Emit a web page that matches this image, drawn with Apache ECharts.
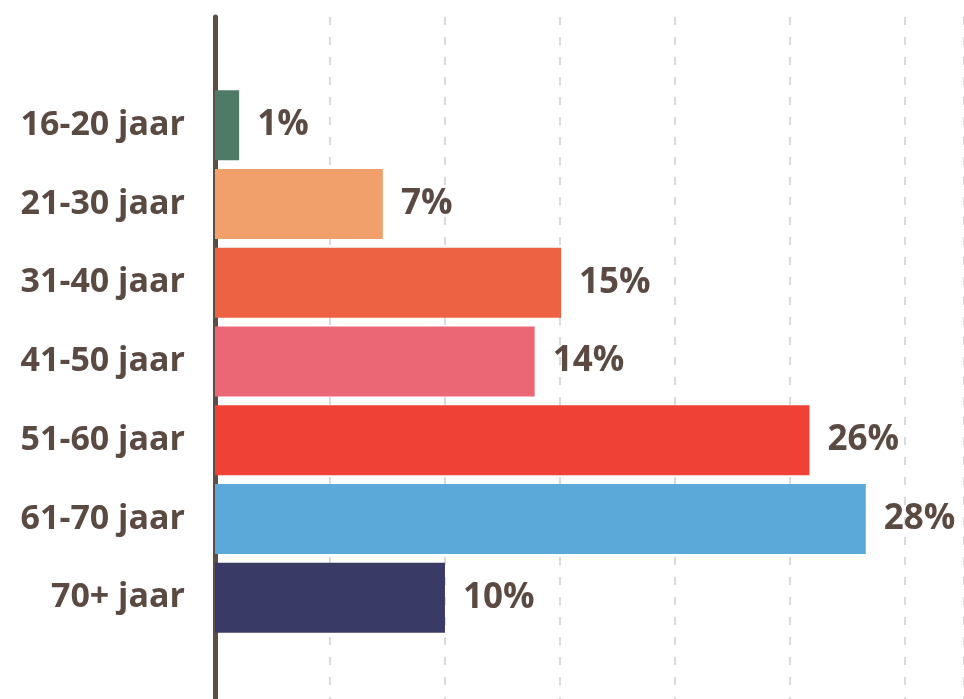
<!DOCTYPE html>
<html>
<head>
<meta charset="utf-8">
<script src="https://cdn.jsdelivr.net/npm/echarts@6/dist/echarts.min.js"></script>
<style>
    html, body { margin: 0; padding: 0; background: #fff; }
    #chart { width: 964px; height: 699px; }
</style>
</head>
<body>
<div id="chart"></div>
<script>
var categories = ["16-20 jaar", "21-30 jaar", "31-40 jaar", "41-50 jaar", "51-60 jaar", "61-70 jaar", "70+ jaar"];
var values = [1.05, 7.3, 15.05, 13.9, 25.85, 28.3, 10];
var barColors = ["#4e7a66", "#f2a06b", "#ec6243", "#eb6776", "#ef4136", "#5aa9d9", "#3a3a66"];

var textColor = "#5b4a42";
var xMax = 32.57;

var option = {
    animation: false,
    grid: [
        // full height grid: axis line + dashed gridlines
        { left: 215, right: 0, top: 17, bottom: 0 },
        // bars
        { left: 215, right: 0, top: 86, bottom: 62 },
    ],
    xAxis: [
        {
            gridIndex: 0,
            type: "value",
            min: 0,
            max: xMax,
            interval: 5,
            axisLine: { show: false },
            axisTick: { show: false },
            axisLabel: { show: false },
            splitLine: {
                show: true,
                lineStyle: { color: "#cfcfcf", width: 1.5, type: [8, 12] },
            },
        },
        {
            gridIndex: 1,
            type: "value",
            min: 0,
            max: xMax,
            show: false,
        },
    ],
    yAxis: [
        {
            gridIndex: 0,
            type: "value",
            axisLine: { show: true, lineStyle: { color: "#5e4d44", width: 5 } },
            axisTick: { show: false },
            axisLabel: { show: false },
            splitLine: { show: false },
        },
        {
            gridIndex: 1,
            type: "category",
            inverse: true,
            data: categories,
            axisLine: { show: false },
            axisTick: { show: false },
            axisLabel: {
                margin: 30,
                color: textColor,
                fontFamily: "Open Sans",
                fontWeight: "bold",
                fontSize: 34,
            },
        },
    ],
    series: [
        {
            type: "bar",
            xAxisIndex: 1,
            yAxisIndex: 1,
            barWidth: 70,
            data: values.map(function (v, i) {
                return { value: v, itemStyle: { color: barColors[i] } };
            }),
            label: {
                show: true,
                position: "right",
                distance: 18,
                color: textColor,
                fontFamily: "Open Sans",
                fontWeight: "bold",
                fontSize: 35,
                formatter: function (p) {
                    return Math.round(p.value) + "%";
                },
            },
        },
    ],
};

var myChart = echarts.init(document.getElementById("chart"));
myChart.setOption(option);
</script>
</body>
</html>
